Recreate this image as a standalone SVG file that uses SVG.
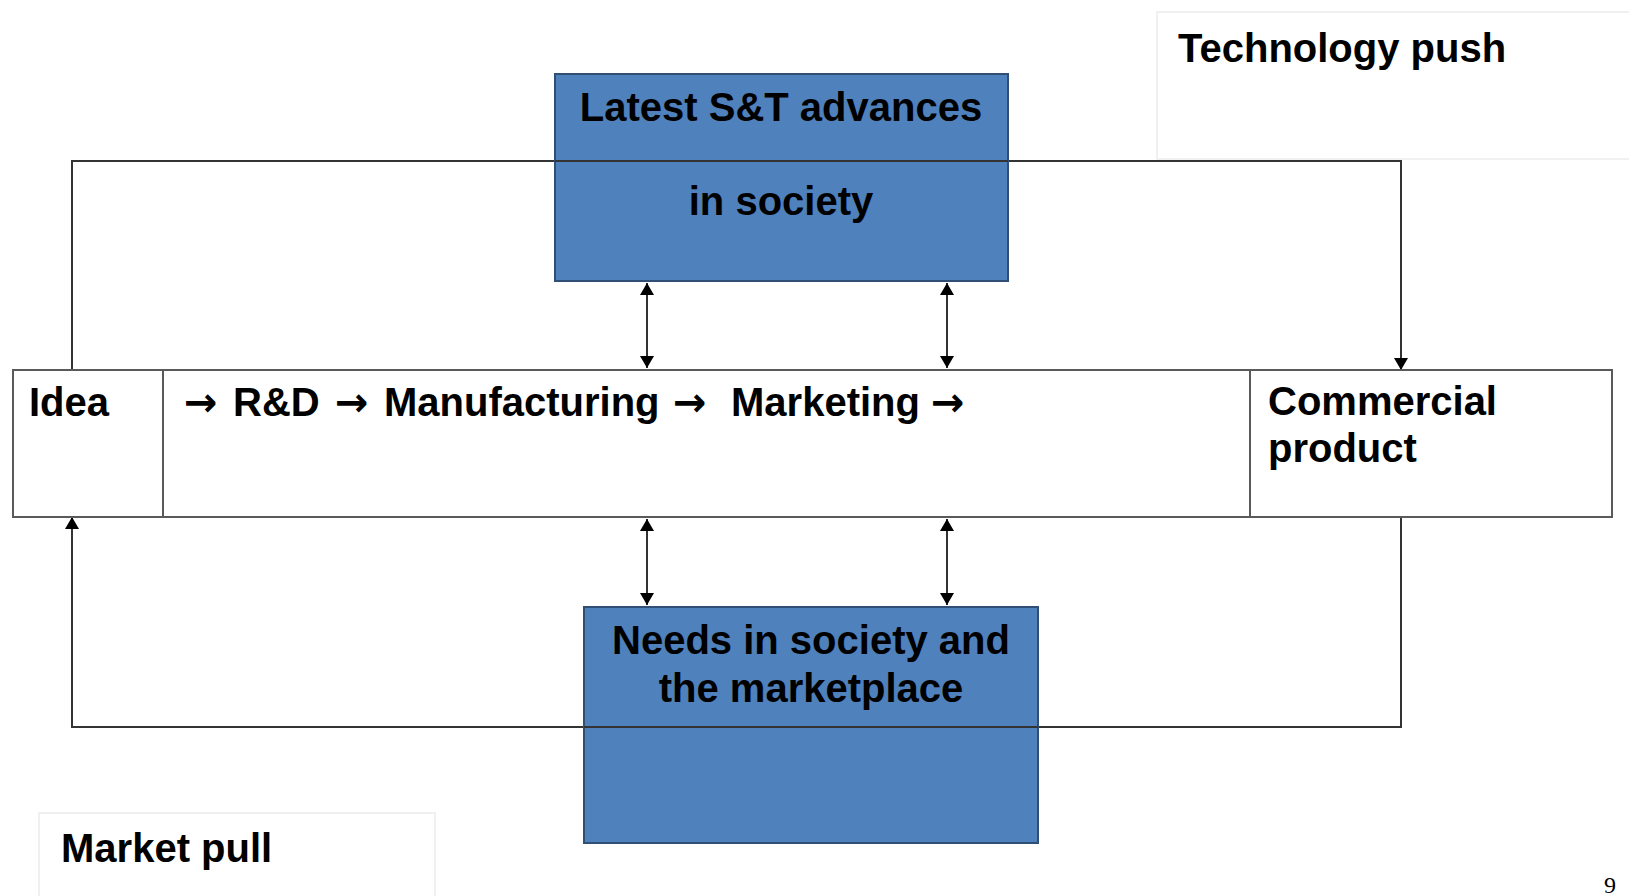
<svg xmlns="http://www.w3.org/2000/svg" width="1629" height="896" viewBox="0 0 1629 896">
<style>
.t{font-family:"Liberation Sans",Arial,sans-serif;font-weight:bold;font-size:40px;fill:#000}
.ar{font-family:"DejaVu Sans",sans-serif;font-weight:bold;font-size:40px;fill:#000}
.blue{fill:#4F81BD;stroke:#2F4F75;stroke-width:2}
.wbox{fill:#fff;stroke:#5a5a5a;stroke-width:2}
.lbl{fill:#fff;stroke:#ececec;stroke-width:1.5}
.c{fill:none;stroke:#333;stroke-width:2}
</style>
<defs>
<marker id="ah" viewBox="0 0 12 14" refX="12" refY="7" markerWidth="12" markerHeight="14" markerUnits="userSpaceOnUse" orient="auto-start-reverse">
<path d="M0,0 L12,7 L0,14 Z" fill="#000"/>
</marker>
</defs>
<rect width="1629" height="896" fill="#fff"/>
<g id="tech-push-label">
<rect class="lbl" x="1157" y="12" width="480" height="147"/>
<text class="t" x="1178" y="62">Technology push</text>
</g>
<g id="market-pull-label">
<rect class="lbl" x="39" y="813" width="396" height="100"/>
<text class="t" x="61" y="862">Market pull</text>
</g>
<g id="connectors">
<path class="c" d="M72,370 L72,161 L1401,161 L1401,370" marker-end="url(#ah)"/>
<path class="c" d="M1401,517 L1401,727 L72,727 L72,517" marker-end="url(#ah)"/>
</g>
<g id="latest-st">
<rect class="blue" x="555" y="74" width="453" height="207"/>
<text class="t" x="781" y="121" text-anchor="middle">Latest S&amp;T advances</text>
<text class="t" x="781" y="215" text-anchor="middle">in society</text>
</g>
<g id="needs">
<rect class="blue" x="584" y="607" width="454" height="236"/>
<text class="t" x="811" y="654" text-anchor="middle">Needs in society and</text>
<text class="t" x="811" y="702" text-anchor="middle">the marketplace</text>
</g>
<g id="overlay-lines">
<line class="c" x1="555" y1="161" x2="1008" y2="161"/>
<line class="c" x1="584" y1="727" x2="1038" y2="727"/>
</g>
<g id="process-row">
<rect class="wbox" x="13" y="370" width="1599" height="147"/>
<line class="wbox" x1="163" y1="370" x2="163" y2="517"/>
<line class="wbox" x1="1250" y1="370" x2="1250" y2="517"/>
</g>
<g id="idea">
<text class="t" x="29" y="416">Idea</text>
</g>
<g id="process">
<text class="ar" x="184" y="416">→</text>
<text class="t" x="233" y="416">R&amp;D</text>
<text class="ar" x="335" y="416">→</text>
<text class="t" x="384" y="416">Manufacturing</text>
<text class="ar" x="673" y="416">→</text>
<text class="t" x="731" y="416">Marketing</text>
<text class="ar" x="931" y="416">→</text>
</g>
<g id="commercial">
<text class="t" x="1268" y="415">Commercial</text>
<text class="t" x="1268" y="462">product</text>
</g>
<g id="links">
<line class="c" x1="647" y1="283" x2="647" y2="368" marker-start="url(#ah)" marker-end="url(#ah)"/>
<line class="c" x1="947" y1="283" x2="947" y2="368" marker-start="url(#ah)" marker-end="url(#ah)"/>
<line class="c" x1="647" y1="519" x2="647" y2="605" marker-start="url(#ah)" marker-end="url(#ah)"/>
<line class="c" x1="947" y1="519" x2="947" y2="605" marker-start="url(#ah)" marker-end="url(#ah)"/>
</g>
<text x="1604" y="893" style="font-family:'Liberation Serif',serif;font-size:24px">9</text>
</svg>
